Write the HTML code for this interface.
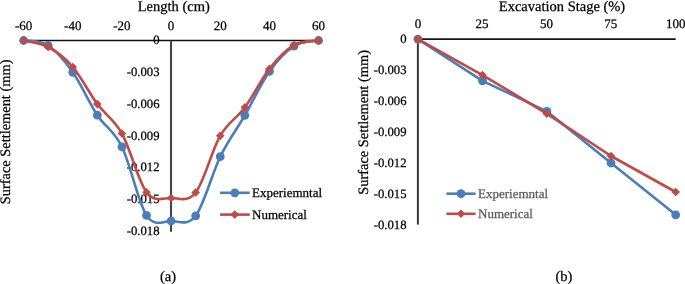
<!DOCTYPE html>
<html><head><meta charset="utf-8"><style>
html,body{margin:0;padding:0;background:#fff;width:685px;height:284px;overflow:hidden}
svg{display:block;will-change:transform}
text{font-family:"Liberation Serif",serif;text-rendering:geometricPrecision;fill:#000;stroke:#000;stroke-width:0.25px}
.g{fill:#595959;stroke:#595959}
</style></head><body>
<svg width="685" height="284" viewBox="0 0 685 284">
<line x1="23.6" y1="40.6" x2="318.6" y2="40.6" stroke="#111" stroke-width="1.5"/>
<line x1="171.0" y1="40.7" x2="171.0" y2="231.8" stroke="#444" stroke-width="2.1"/>
<text x="23.62" y="29.7" font-family="Liberation Serif" font-size="13" text-anchor="middle">-60</text>
<text x="72.78" y="29.7" font-family="Liberation Serif" font-size="13" text-anchor="middle">-40</text>
<text x="121.94" y="29.7" font-family="Liberation Serif" font-size="13" text-anchor="middle">-20</text>
<text x="171.10" y="29.7" font-family="Liberation Serif" font-size="13" text-anchor="middle">0</text>
<text x="220.26" y="29.7" font-family="Liberation Serif" font-size="13" text-anchor="middle">20</text>
<text x="269.42" y="29.7" font-family="Liberation Serif" font-size="13" text-anchor="middle">40</text>
<text x="318.58" y="29.7" font-family="Liberation Serif" font-size="13" text-anchor="middle">60</text>
<text x="159.5" y="44.40" font-family="Liberation Serif" font-size="12.7" text-anchor="end">0</text>
<text x="159.5" y="76.17" font-family="Liberation Serif" font-size="12.7" text-anchor="end">-0.003</text>
<text x="159.5" y="107.94" font-family="Liberation Serif" font-size="12.7" text-anchor="end">-0.006</text>
<text x="159.5" y="139.71" font-family="Liberation Serif" font-size="12.7" text-anchor="end">-0.009</text>
<text x="159.5" y="171.48" font-family="Liberation Serif" font-size="12.7" text-anchor="end">-0.012</text>
<text x="159.5" y="203.25" font-family="Liberation Serif" font-size="12.7" text-anchor="end">-0.015</text>
<text x="159.5" y="235.02" font-family="Liberation Serif" font-size="12.7" text-anchor="end">-0.018</text>
<text x="173.8" y="10.8" font-family="Liberation Serif" font-size="14.5" text-anchor="middle">Length (cm)</text>
<text transform="translate(10.4,131.9) rotate(-90)" font-family="Liberation Serif" font-size="14.4" text-anchor="middle">Surface Settlement (mm)</text>
<path d="M23.62,40.50 C27.72,41.33 40.01,40.20 48.20,45.50 C56.39,50.80 64.59,60.68 72.78,72.30 C80.97,83.92 89.17,102.78 97.36,115.20 C105.55,127.62 113.75,130.10 121.94,146.80 C130.13,163.50 138.33,203.03 146.52,215.40 C154.71,227.77 162.91,220.93 171.10,221.00 C179.29,221.07 187.49,226.52 195.68,215.80 C203.87,205.08 212.07,173.45 220.26,156.70 C228.45,139.95 236.65,129.52 244.84,115.30 C253.03,101.08 261.23,82.93 269.42,71.40 C277.61,59.87 285.81,51.25 294.00,46.10 C302.19,40.95 314.48,41.43 318.58,40.50" fill="none" stroke="#4A7EBB" stroke-width="2.6" stroke-linejoin="round" stroke-linecap="round"/>
<circle cx="23.62" cy="40.50" r="4.4" fill="#4A7EBB"/>
<circle cx="48.20" cy="45.50" r="4.4" fill="#4A7EBB"/>
<circle cx="72.78" cy="72.30" r="4.4" fill="#4A7EBB"/>
<circle cx="97.36" cy="115.20" r="4.4" fill="#4A7EBB"/>
<circle cx="121.94" cy="146.80" r="4.4" fill="#4A7EBB"/>
<circle cx="146.52" cy="215.40" r="4.4" fill="#4A7EBB"/>
<circle cx="171.10" cy="221.00" r="4.4" fill="#4A7EBB"/>
<circle cx="195.68" cy="215.80" r="4.4" fill="#4A7EBB"/>
<circle cx="220.26" cy="156.70" r="4.4" fill="#4A7EBB"/>
<circle cx="244.84" cy="115.30" r="4.4" fill="#4A7EBB"/>
<circle cx="269.42" cy="71.40" r="4.4" fill="#4A7EBB"/>
<circle cx="294.00" cy="46.10" r="4.4" fill="#4A7EBB"/>
<circle cx="318.58" cy="40.50" r="4.4" fill="#4A7EBB"/>
<path d="M23.62,40.50 C27.72,41.58 40.01,42.58 48.20,47.00 C56.39,51.42 64.59,57.48 72.78,67.00 C80.97,76.52 89.17,93.02 97.36,104.10 C105.55,115.18 113.75,118.82 121.94,133.50 C130.13,148.18 138.33,181.45 146.52,192.20 C154.71,202.95 162.91,197.95 171.10,198.00 C179.29,198.05 187.49,202.88 195.68,192.50 C203.87,182.12 212.07,149.88 220.26,135.70 C228.45,121.52 236.65,118.53 244.84,107.40 C253.03,96.27 261.23,79.27 269.42,68.90 C277.61,58.53 285.81,49.93 294.00,45.20 C302.19,40.47 314.48,41.28 318.58,40.50" fill="none" stroke="#BE4B48" stroke-width="2.6" stroke-linejoin="round" stroke-linecap="round"/>
<path d="M23.62,36.20 L27.92,40.50 L23.62,44.80 L19.32,40.50Z" fill="#BE4B48"/>
<path d="M48.20,42.70 L52.50,47.00 L48.20,51.30 L43.90,47.00Z" fill="#BE4B48"/>
<path d="M72.78,62.70 L77.08,67.00 L72.78,71.30 L68.48,67.00Z" fill="#BE4B48"/>
<path d="M97.36,99.80 L101.66,104.10 L97.36,108.40 L93.06,104.10Z" fill="#BE4B48"/>
<path d="M121.94,129.20 L126.24,133.50 L121.94,137.80 L117.64,133.50Z" fill="#BE4B48"/>
<path d="M146.52,187.90 L150.82,192.20 L146.52,196.50 L142.22,192.20Z" fill="#BE4B48"/>
<path d="M171.10,193.70 L175.40,198.00 L171.10,202.30 L166.80,198.00Z" fill="#BE4B48"/>
<path d="M195.68,188.20 L199.98,192.50 L195.68,196.80 L191.38,192.50Z" fill="#BE4B48"/>
<path d="M220.26,131.40 L224.56,135.70 L220.26,140.00 L215.96,135.70Z" fill="#BE4B48"/>
<path d="M244.84,103.10 L249.14,107.40 L244.84,111.70 L240.54,107.40Z" fill="#BE4B48"/>
<path d="M269.42,64.60 L273.72,68.90 L269.42,73.20 L265.12,68.90Z" fill="#BE4B48"/>
<path d="M294.00,40.90 L298.30,45.20 L294.00,49.50 L289.70,45.20Z" fill="#BE4B48"/>
<path d="M318.58,36.20 L322.88,40.50 L318.58,44.80 L314.28,40.50Z" fill="#BE4B48"/>
<line x1="220.1" y1="192.8" x2="249.7" y2="192.8" stroke="#4A7EBB" stroke-width="2.6"/>
<circle cx="234.80" cy="192.80" r="4.4" fill="#4A7EBB"/>
<line x1="220.1" y1="214.6" x2="249.7" y2="214.6" stroke="#BE4B48" stroke-width="2.6"/>
<path d="M234.80,210.30 L239.10,214.60 L234.80,218.90 L230.50,214.60Z" fill="#BE4B48"/>
<text x="252" y="197.3" font-family="Liberation Serif" font-size="13">Experiemntal</text>
<text x="252" y="218.9" font-family="Liberation Serif" font-size="13">Numerical</text>
<text x="168" y="280.5" font-family="Liberation Serif" font-size="14.5" text-anchor="middle">(a)</text>
<line x1="417.9" y1="39.2" x2="675.7" y2="39.2" stroke="#151515" stroke-width="1.7"/>
<line x1="417.9" y1="39.1" x2="417.9" y2="224.6" stroke="#3a3a3a" stroke-width="2.0"/>
<text x="418.00" y="27.8" font-family="Liberation Serif" font-size="13" text-anchor="middle">0</text>
<text x="481.90" y="27.8" font-family="Liberation Serif" font-size="13" text-anchor="middle">25</text>
<text x="546.60" y="27.8" font-family="Liberation Serif" font-size="13" text-anchor="middle">50</text>
<text x="610.70" y="27.8" font-family="Liberation Serif" font-size="13" text-anchor="middle">75</text>
<text x="675.80" y="27.8" font-family="Liberation Serif" font-size="13" text-anchor="middle">100</text>
<text x="406.5" y="43.10" font-family="Liberation Serif" font-size="12.7" text-anchor="end">0</text>
<text x="406.5" y="74.10" font-family="Liberation Serif" font-size="12.7" text-anchor="end">-0.003</text>
<text x="406.5" y="105.10" font-family="Liberation Serif" font-size="12.7" text-anchor="end">-0.006</text>
<text x="406.5" y="136.10" font-family="Liberation Serif" font-size="12.7" text-anchor="end">-0.009</text>
<text x="406.5" y="167.10" font-family="Liberation Serif" font-size="12.7" text-anchor="end">-0.012</text>
<text x="406.5" y="198.10" font-family="Liberation Serif" font-size="12.7" text-anchor="end">-0.015</text>
<text x="406.5" y="229.10" font-family="Liberation Serif" font-size="12.7" text-anchor="end">-0.018</text>
<text x="562" y="10.6" font-family="Liberation Serif" font-size="14.5" text-anchor="middle">Excavation Stage (%)</text>
<text transform="translate(368.1,122.4) rotate(-90)" font-family="Liberation Serif" font-size="14.4" text-anchor="middle">Surface Settlement (mm)</text>
<path d="M417.90,39.10 L482.50,80.80 L546.80,111.30 L611.00,163.00 L675.70,214.80" fill="none" stroke="#4A7EBB" stroke-width="2.6" stroke-linejoin="round" stroke-linecap="round"/>
<circle cx="417.90" cy="39.10" r="4.4" fill="#4A7EBB"/>
<circle cx="482.50" cy="80.80" r="4.4" fill="#4A7EBB"/>
<circle cx="546.80" cy="111.30" r="4.4" fill="#4A7EBB"/>
<circle cx="611.00" cy="163.00" r="4.4" fill="#4A7EBB"/>
<circle cx="675.70" cy="214.80" r="4.4" fill="#4A7EBB"/>
<path d="M417.90,39.10 L482.50,75.10 L546.80,113.60 L611.00,156.00 L675.70,192.00" fill="none" stroke="#BE4B48" stroke-width="2.6" stroke-linejoin="round" stroke-linecap="round"/>
<path d="M417.90,34.80 L422.20,39.10 L417.90,43.40 L413.60,39.10Z" fill="#BE4B48"/>
<path d="M482.50,70.80 L486.80,75.10 L482.50,79.40 L478.20,75.10Z" fill="#BE4B48"/>
<path d="M546.80,109.30 L551.10,113.60 L546.80,117.90 L542.50,113.60Z" fill="#BE4B48"/>
<path d="M611.00,151.70 L615.30,156.00 L611.00,160.30 L606.70,156.00Z" fill="#BE4B48"/>
<path d="M675.70,187.70 L680.00,192.00 L675.70,196.30 L671.40,192.00Z" fill="#BE4B48"/>
<line x1="446.4" y1="193.7" x2="475.6" y2="193.7" stroke="#4A7EBB" stroke-width="2.6"/>
<circle cx="461.00" cy="193.70" r="4.4" fill="#4A7EBB"/>
<line x1="446.4" y1="213.8" x2="475.6" y2="213.8" stroke="#BE4B48" stroke-width="2.6"/>
<path d="M461.00,209.50 L465.30,213.80 L461.00,218.10 L456.70,213.80Z" fill="#BE4B48"/>
<text x="478" y="198.2" font-family="Liberation Serif" font-size="13" class="g">Experiemntal</text>
<text x="478" y="218" font-family="Liberation Serif" font-size="13" class="g">Numerical</text>
<text x="564" y="280.5" font-family="Liberation Serif" font-size="14.5" text-anchor="middle">(b)</text>
</svg>
</body></html>
